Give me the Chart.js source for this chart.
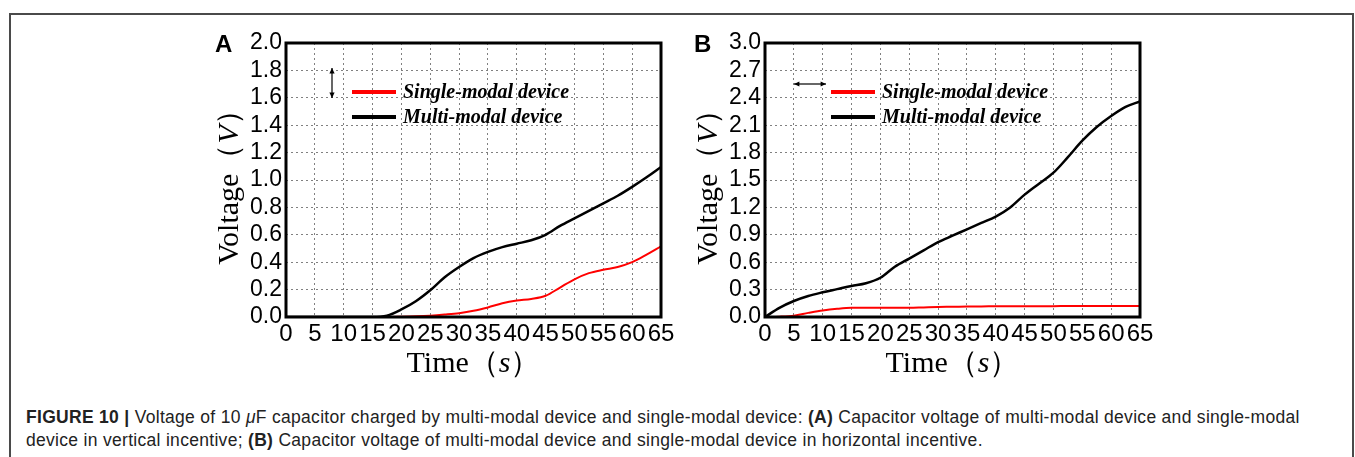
<!DOCTYPE html>
<html>
<head>
<meta charset="utf-8">
<script src="https://cdn.jsdelivr.net/npm/chart.js@4.4.1/dist/chart.umd.min.js"></script>
<style>
  body { margin: 0; background: #fff; width: 1355px; height: 457px; overflow: hidden; position: relative; }
  #frame { position: absolute; left: 9px; top: 13px; width: 1341px; height: 460px; border: 2px solid #4a4a4a; border-bottom: none; }
  canvas { position: absolute; top: 20px; }
  #chartA { left: 200px; }
  #chartB { left: 680px; }
  #caption { position: absolute; left: 26px; top: 406px; width: 1320px; font-family: "Liberation Sans", Arial, sans-serif; font-size: 17.5px; letter-spacing: 0.3px; line-height: 23px; color: #222; white-space: nowrap; }
</style>
</head>
<body>
<div id="frame"></div>
<canvas id="chartA" width="480" height="370"></canvas>
<canvas id="chartB" width="480" height="370"></canvas>
<div id="caption"><b>FIGURE 10 |</b> Voltage of 10 <i>μ</i>F capacitor charged by multi-modal device and single-modal device: <b>(A)</b> Capacitor voltage of multi-modal device and single-modal<br>device in vertical incentive; <b>(B)</b> Capacitor voltage of multi-modal device and single-modal device in horizontal incentive.</div>
<script>
// time in seconds
const time = [0, 2.5, 5, 7.5, 10, 12.5, 15, 17.5, 20, 22.5, 25, 27.5, 30, 32.5, 35, 37.5, 40, 42.5, 45, 47.5, 50, 52.5, 55, 57.5, 60, 62.5, 65];

// panel A - vertical incentive
const singleA = [0, 0, 0, 0, 0, 0, 0, 0, 0.002, 0.005, 0.01, 0.018, 0.028, 0.045, 0.07, 0.1, 0.12, 0.132, 0.155, 0.215, 0.275, 0.32, 0.345, 0.365, 0.4, 0.455, 0.515];
const multiA = [0, 0, 0, 0, 0, 0, 0, 0.01, 0.055, 0.115, 0.195, 0.29, 0.365, 0.43, 0.475, 0.51, 0.535, 0.56, 0.6, 0.665, 0.72, 0.775, 0.83, 0.885, 0.95, 1.02, 1.095];

// panel B - horizontal incentive
const singleB = [0, 0.004, 0.015, 0.045, 0.072, 0.09, 0.1, 0.1, 0.1, 0.1, 0.1, 0.105, 0.11, 0.112, 0.115, 0.116, 0.117, 0.118, 0.118, 0.119, 0.119, 0.12, 0.12, 0.12, 0.12, 0.12, 0.12];
const multiB = [0, 0.1, 0.175, 0.23, 0.27, 0.305, 0.34, 0.37, 0.43, 0.55, 0.64, 0.73, 0.82, 0.89, 0.96, 1.03, 1.1, 1.2, 1.34, 1.46, 1.58, 1.75, 1.93, 2.08, 2.2, 2.3, 2.36];

const legendLabels = ["Single-modal device", "Multi-modal device"];

const sans = "'Liberation Sans', Arial, sans-serif";
const serif = "'Liberation Serif', 'Times New Roman', serif";

function pts(ys) {
  return time.map((t, i) => ({ x: t, y: ys[i] }));
}

// draws frame box, axis titles, legend, arrow and panel letter
const decorations = {
  id: "decorations",
  afterDraw(chart, args, opts) {
    const ctx = chart.ctx;
    const a = chart.chartArea;
    ctx.save();

    ctx.strokeStyle = "#000";
    ctx.lineWidth = 3;
    ctx.strokeRect(a.left, a.top, a.right - a.left, a.bottom - a.top);

    // panel letter
    ctx.fillStyle = "#000";
    ctx.font = "bold 24px " + sans;
    ctx.textBaseline = "alphabetic";
    ctx.textAlign = "left";
    ctx.fillText(opts.letter, a.left - 71, a.top + 9);

    // axis titles with italic units
    const drawMixed = (parts, cx, cy) => {
      let total = 0;
      parts.forEach(p => { ctx.font = p[1] + " 30px " + serif; total += ctx.measureText(p[0]).width; });
      let x = cx - total / 2;
      parts.forEach(p => {
        ctx.font = p[1] + " 30px " + serif;
        ctx.fillText(p[0], x, cy);
        x += ctx.measureText(p[0]).width;
      });
    };
    drawMixed([["Time", "normal"], ["（", "normal"], ["s", "italic"], ["）", "normal"]], (a.left + a.right) / 2, a.bottom + 55);
    ctx.save();
    ctx.translate(a.left - 48, (a.top + a.bottom) / 2);
    ctx.rotate(-Math.PI / 2);
    drawMixed([["Voltage", "normal"], ["（", "normal"], ["V", "italic"], ["）", "normal"]], 0, 0);
    ctx.restore();

    // legend
    const lx = a.left + 66;
    chart.data.datasets.forEach((ds, i) => {
      const ly = a.top + 49 + i * 25;
      ctx.strokeStyle = ds.borderColor;
      ctx.lineWidth = 4;
      ctx.beginPath();
      ctx.moveTo(lx, ly);
      ctx.lineTo(lx + 44, ly);
      ctx.stroke();
      ctx.fillStyle = "#000";
      ctx.font = "italic bold 20px " + serif;
      ctx.fillText(legendLabels[i], lx + 51, ly + 6);
    });

    // direction arrow
    ctx.strokeStyle = "#000";
    ctx.fillStyle = "#000";
    ctx.lineWidth = 1.2;
    const head = (x, y, ang) => {
      ctx.beginPath();
      ctx.moveTo(x, y);
      ctx.lineTo(x - 6 * Math.cos(ang - 0.45), y - 6 * Math.sin(ang - 0.45));
      ctx.lineTo(x - 6 * Math.cos(ang + 0.45), y - 6 * Math.sin(ang + 0.45));
      ctx.closePath();
      ctx.fill();
    };
    let x1, y1, x2, y2;
    if (opts.vertical) {
      x1 = x2 = a.left + 46; y1 = a.top + 25; y2 = a.top + 55;
    } else {
      y1 = y2 = a.top + 41; x1 = a.left + 29; x2 = a.left + 61;
    }
    ctx.beginPath();
    ctx.moveTo(x1, y1);
    ctx.lineTo(x2, y2);
    ctx.stroke();
    const ang = Math.atan2(y2 - y1, x2 - x1);
    head(x2, y2, ang);
    head(x1, y1, ang + Math.PI);

    ctx.restore();
  }
};

function makeChart(id, single, multi, yMax, letter, vertical, yWidth, padRight) {
  return new Chart(document.getElementById(id), {
    type: "line",
    data: {
      datasets: [
        { label: legendLabels[0], data: pts(single), borderColor: "#ff0000", borderWidth: 2, pointRadius: 0, cubicInterpolationMode: "monotone" },
        { label: legendLabels[1], data: pts(multi), borderColor: "#000000", borderWidth: 2.5, pointRadius: 0, cubicInterpolationMode: "monotone" }
      ]
    },
    options: {
      responsive: false,
      animation: false,
      layout: { padding: { top: 23, right: padRight, left: 0, bottom: 0 } },
      plugins: {
        legend: { display: false },
        tooltip: { enabled: false },
        decorations: { letter: letter, vertical: vertical }
      },
      scales: {
        x: {
          type: "linear",
          min: 0,
          max: 65,
          afterFit(scale) { scale.height = 73; },
          ticks: { stepSize: 5, autoSkip: false, maxRotation: 0, padding: 3, color: "#000", font: { family: sans, size: 24 } },
          grid: { color: "#808080", lineWidth: 1, drawTicks: false },
          border: { display: false, dash: [2, 3] }
        },
        y: {
          min: 0,
          max: yMax,
          afterFit(scale) { scale.width = yWidth; },
          ticks: {
            count: 11,
            autoSkip: false,
            padding: 4,
            color: "#000",
            font: { family: sans, size: 23 },
            callback: v => v.toFixed(1)
          },
          grid: { color: "#808080", lineWidth: 1, drawTicks: false },
          border: { display: false, dash: [2, 3] }
        }
      }
    },
    plugins: [decorations]
  });
}

makeChart("chartA", singleA, multiA, 2.0, "A", true, 86, 19);
makeChart("chartB", singleB, multiB, 3.0, "B", false, 85, 20);
</script>
</body>
</html>
